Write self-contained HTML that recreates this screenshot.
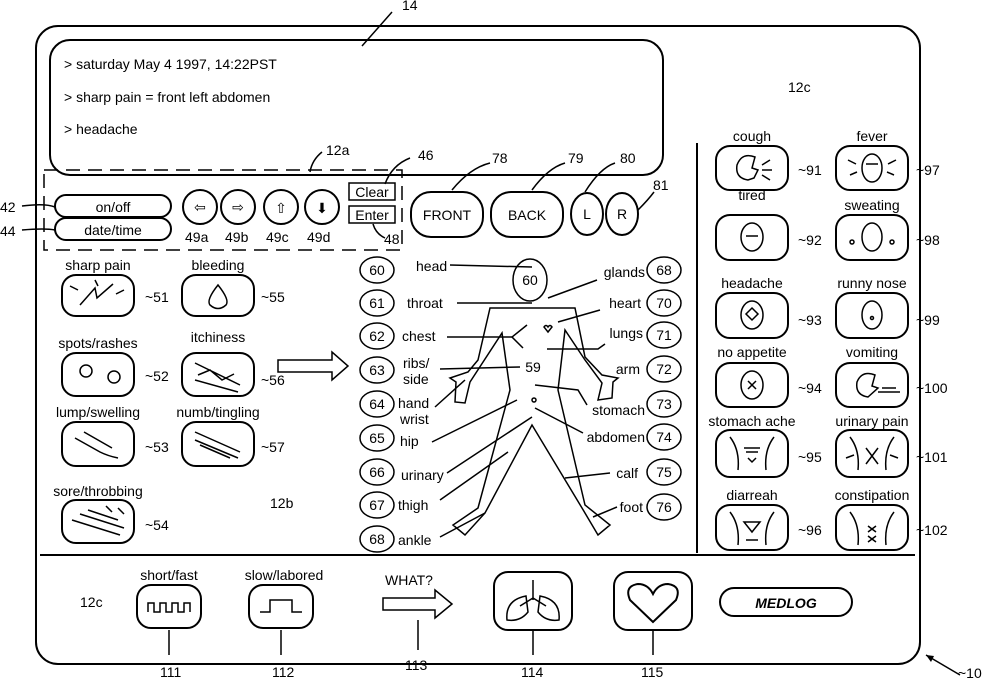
<!DOCTYPE html>
<html><head><meta charset="utf-8"><style>
body{margin:0;background:#fff}
svg{display:block}
text{font-family:"Liberation Sans",sans-serif;font-size:14px;fill:#000}
.s{fill:none;stroke:#000;stroke-width:2}
.t{fill:none;stroke:#000;stroke-width:1.5}
</style></head><body>
<svg width="988" height="679" viewBox="0 0 988 679">
<rect x="36" y="26" width="884" height="638" rx="22" class="s"/>
<rect x="50" y="40" width="613" height="135" rx="20" class="s"/>
<text x="64" y="69">&gt; saturday May 4 1997, 14:22PST</text>
<text x="64" y="102">&gt; sharp pain = front left abdomen</text>
<text x="64" y="134">&gt; headache</text>
<path d="M362 46 L392 12" class="t"/><text x="402" y="10">14</text>
<rect x="44" y="170" width="358" height="80" class="t" stroke-dasharray="14 8"/>
<path d="M310 172 Q312 160 322 152" class="t"/><text x="326" y="155">12a</text>
<rect x="55" y="195" width="116" height="22" rx="11" class="s"/><text x="113" y="212" text-anchor="middle">on/off</text>
<rect x="55" y="218" width="116" height="22" rx="11" class="s"/><text x="113" y="235" text-anchor="middle">date/time</text>
<text x="0" y="212">42</text><path d="M22 206 Q45 203 55 207" class="t"/>
<text x="0" y="236">44</text><path d="M22 230 Q45 228 55 230" class="t"/>
<circle cx="200" cy="207" r="17" class="s"/><text x="200" y="212" text-anchor="middle">⇦</text>
<circle cx="238" cy="207" r="17" class="s"/><text x="238" y="212" text-anchor="middle">⇨</text>
<circle cx="281" cy="207" r="17" class="s"/><text x="281" y="213" text-anchor="middle">⇧</text>
<circle cx="322" cy="207" r="17" class="s"/><text x="322" y="213" text-anchor="middle">⬇</text>
<text x="185" y="242">49a</text><text x="225" y="242">49b</text><text x="266" y="242">49c</text><text x="307" y="242">49d</text>
<rect x="349" y="183" width="46" height="17" class="t"/><text x="372" y="197" text-anchor="middle">Clear</text>
<rect x="349" y="206" width="46" height="17" class="t"/><text x="372" y="220" text-anchor="middle">Enter</text>
<path d="M385 184 Q392 165 410 158" class="t"/><text x="418" y="160">46</text>
<path d="M373 224 Q376 234 385 238" class="t"/><text x="384" y="244">48</text>
<rect x="411" y="192" width="72" height="45" rx="20" class="s"/><text x="447" y="220" text-anchor="middle" font-size="15">FRONT</text>
<rect x="491" y="192" width="72" height="45" rx="20" class="s"/><text x="527" y="220" text-anchor="middle" font-size="15">BACK</text>
<ellipse cx="587" cy="214" rx="16" ry="21" class="s"/><text x="587" y="219" text-anchor="middle">L</text>
<ellipse cx="622" cy="214" rx="16" ry="21" class="s"/><text x="622" y="219" text-anchor="middle">R</text>
<path d="M452 190 Q470 168 490 163" class="t"/><text x="492" y="163">78</text>
<path d="M532 190 Q548 168 565 163" class="t"/><text x="568" y="163">79</text>
<path d="M585 192 Q600 168 615 163" class="t"/><text x="620" y="163">80</text>
<path d="M638 210 Q648 200 654 192" class="t"/><text x="653" y="190">81</text>
<path d="M697 143 V553 M40 555 H915" class="s"/>
<text x="788" y="92">12c</text>
<text x="270" y="508">12b</text>
<text x="80" y="607" font-size="13">12c</text>
<!-- left icons -->
<g>
<text x="98" y="270" text-anchor="middle">sharp pain</text><rect x="62" y="275" width="72" height="41" rx="14" class="s"/>
<path d="M80 305 L95 288 L97 298 L113 284" class="t"/><path d="M70 286 L78 290 M124 290 L116 294 M95 280 L98 286" class="t"/>
<text x="218" y="270" text-anchor="middle">bleeding</text><rect x="182" y="275" width="72" height="41" rx="14" class="s"/>
<path d="M218 285 Q206 300 210 305 Q218 312 226 305 Q230 300 218 285Z" class="t"/>
<text x="98" y="348" text-anchor="middle">spots/rashes</text><rect x="62" y="353" width="72" height="43" rx="14" class="s"/>
<circle cx="86" cy="371" r="6" class="t"/><circle cx="114" cy="377" r="6" class="t"/>
<text x="218" y="342" text-anchor="middle">itchiness</text><rect x="182" y="353" width="72" height="43" rx="14" class="s"/>
<path d="M195 363 L240 385 M198 375 L210 370 L222 380 L234 374 M195 380 L238 392" class="t"/>
<text x="98" y="417" text-anchor="middle">lump/swelling</text><rect x="62" y="422" width="72" height="44" rx="14" class="s"/>
<path d="M75 438 L100 452 Q108 456 118 458 M84 432 L112 448" class="t"/>
<text x="218" y="417" text-anchor="middle">numb/tingling</text><rect x="182" y="422" width="72" height="44" rx="14" class="s"/>
<path d="M195 432 L240 452 M195 440 L238 458 M200 445 L230 458" class="t"/>
<text x="98" y="496" text-anchor="middle">sore/throbbing</text><rect x="62" y="500" width="72" height="43" rx="14" class="s"/>
<path d="M72 520 L120 535 M80 514 L124 528 M88 510 L118 520 M106 506 L112 512 M118 508 L124 514" class="t"/>
<text x="145" y="302">~51</text><text x="261" y="302">~55</text>
<text x="145" y="381">~52</text><text x="261" y="385">~56</text>
<text x="145" y="452">~53</text><text x="261" y="452">~57</text>
<text x="145" y="530">~54</text>
</g>
<path d="M278 360 H332 V352 L348 366 L332 380 V372 H278 Z" class="t"/>
<!-- body numbers -->
<g class="t">
<ellipse cx="377" cy="270" rx="17" ry="13"/><ellipse cx="377" cy="303" rx="17" ry="13"/><ellipse cx="377" cy="336" rx="17" ry="13"/><ellipse cx="377" cy="370" rx="17" ry="13"/><ellipse cx="377" cy="404" rx="17" ry="13"/><ellipse cx="377" cy="438" rx="17" ry="13"/><ellipse cx="377" cy="472" rx="17" ry="13"/><ellipse cx="377" cy="505" rx="17" ry="13"/><ellipse cx="377" cy="539" rx="17" ry="13"/>
<ellipse cx="664" cy="270" rx="17" ry="13"/><ellipse cx="664" cy="303" rx="17" ry="13"/><ellipse cx="664" cy="335" rx="17" ry="13"/><ellipse cx="664" cy="369" rx="17" ry="13"/><ellipse cx="664" cy="404" rx="17" ry="13"/><ellipse cx="664" cy="437" rx="17" ry="13"/><ellipse cx="664" cy="472" rx="17" ry="13"/><ellipse cx="664" cy="507" rx="17" ry="13"/>
</g>
<g text-anchor="middle">
<text x="377" y="275">60</text><text x="377" y="308">61</text><text x="377" y="341">62</text><text x="377" y="375">63</text><text x="377" y="409">64</text><text x="377" y="443">65</text><text x="377" y="477">66</text><text x="377" y="510">67</text><text x="377" y="544">68</text>
<text x="664" y="275">68</text><text x="664" y="308">70</text><text x="664" y="340">71</text><text x="664" y="374">72</text><text x="664" y="409">73</text><text x="664" y="442">74</text><text x="664" y="477">75</text><text x="664" y="512">76</text>
</g>
<text x="416" y="271">head</text><text x="407" y="308">throat</text><text x="402" y="341">chest</text>
<text x="403" y="368">ribs/</text><text x="403" y="384">side</text><text x="398" y="408">hand</text><text x="400" y="424">wrist</text>
<text x="400" y="446">hip</text><text x="401" y="480">urinary</text><text x="398" y="510">thigh</text><text x="398" y="545">ankle</text>
<g text-anchor="end"><text x="645" y="277">glands</text><text x="641" y="308">heart</text><text x="643" y="338">lungs</text><text x="640" y="374">arm</text><text x="645" y="415">stomach</text><text x="645" y="442">abdomen</text><text x="638" y="478">calf</text><text x="643" y="512">foot</text></g>
<ellipse cx="530" cy="280" rx="17" ry="21" class="t"/><text x="530" y="285" text-anchor="middle">60</text>
<path d="M490 308 L478 360 L468 372 L450 378 L456 382 L455 402 L465 403 L470 382 L502 333 L510 390 L478 508 L453 525 L465 535 L485 513 L532 425 L582 508 L598 535 L610 525 L585 505 L558 390 L565 330 L585 360 L602 383 L598 400 L612 398 L613 382 L618 378 L602 375 L585 357 L575 308 Z" class="t"/>
<path d="M527 325 L512 337 L523 348" class="t"/>
<path d="M548 332 L544 327 Q546 324 548 327 Q550 324 552 327 Z" class="t"/>
<circle cx="534" cy="400" r="2" class="t"/>
<text x="533" y="372" text-anchor="middle">59</text>
<g class="t">
<path d="M450 265 L532 267 M597 280 L548 298 M457 303 L532 303 M600 310 L558 322 M447 337 L512 337 M605 344 L598 349 L547 349 M440 369 L520 367 M435 407 L465 380 M535 385 L578 390 L587 405 M432 442 L517 400 M535 408 L583 433 M447 473 L532 417 M440 500 L508 452 M610 473 L565 478 M617 507 L593 517 M440 537 L485 513"/>
</g>
<!-- right icons -->
<g>
<text x="752" y="141" text-anchor="middle">cough</text><rect x="716" y="146" width="72" height="44" rx="14" class="s"/>
<text x="752" y="200" text-anchor="middle">tired</text><rect x="716" y="215" width="72" height="45" rx="14" class="s"/>
<text x="752" y="288" text-anchor="middle">headache</text><rect x="716" y="293" width="72" height="45" rx="14" class="s"/>
<text x="752" y="357" text-anchor="middle">no appetite</text><rect x="716" y="363" width="72" height="44" rx="14" class="s"/>
<text x="752" y="426" text-anchor="middle">stomach ache</text><rect x="716" y="430" width="72" height="47" rx="14" class="s"/>
<text x="752" y="500" text-anchor="middle">diarreah</text><rect x="716" y="505" width="72" height="45" rx="14" class="s"/>
<text x="872" y="141" text-anchor="middle">fever</text><rect x="836" y="146" width="72" height="44" rx="14" class="s"/>
<text x="872" y="210" text-anchor="middle">sweating</text><rect x="836" y="215" width="72" height="45" rx="14" class="s"/>
<text x="872" y="288" text-anchor="middle">runny nose</text><rect x="836" y="293" width="72" height="45" rx="14" class="s"/>
<text x="872" y="357" text-anchor="middle">vomiting</text><rect x="836" y="363" width="72" height="44" rx="14" class="s"/>
<text x="872" y="426" text-anchor="middle">urinary pain</text><rect x="836" y="430" width="72" height="47" rx="14" class="s"/>
<text x="872" y="500" text-anchor="middle">constipation</text><rect x="836" y="505" width="72" height="45" rx="14" class="s"/>
<g class="t">
<path d="M748 180 Q735 178 737 165 Q742 152 755 157 L752 168 L758 170 L754 178 Z M762 165 L770 160 M762 170 L772 170 M762 175 L770 180"/>
<ellipse cx="872" cy="168" rx="10" ry="14"/><path d="M848 160 L856 164 M896 160 L888 164 M850 175 L857 172 M894 175 L887 172 M866 164 H878"/>
<ellipse cx="752" cy="237" rx="11" ry="14"/><path d="M746 236 H758"/>
<ellipse cx="872" cy="237" rx="10" ry="14"/><circle cx="852" cy="242" r="2"/><circle cx="892" cy="242" r="2"/>
<ellipse cx="752" cy="315" rx="11" ry="14"/><path d="M752 308 L758 314 L752 320 L746 314 Z"/>
<ellipse cx="872" cy="315" rx="10" ry="14"/><circle cx="872" cy="318" r="1.5"/>
<ellipse cx="752" cy="385" rx="11" ry="14"/><path d="M748 381 L756 389 M756 381 L748 389"/>
<path d="M868 397 Q855 395 857 382 Q862 370 875 375 L872 386 L878 388 Z M878 392 H900 M882 388 H896"/>
<path d="M730 437 Q740 450 738 470 M774 437 Q764 450 766 470 M744 448 H760 M746 452 H758 M748 458 L752 462 L756 458"/>
<path d="M850 437 Q860 450 858 470 M894 437 Q884 450 886 470 M866 448 L878 464 M878 448 L866 464 M846 458 L854 455 M898 458 L890 455"/>
<path d="M730 512 Q740 525 738 545 M774 512 Q764 525 766 545 M744 522 L760 522 L752 532 Z M746 540 H758"/>
<path d="M850 512 Q860 525 858 545 M894 512 Q884 525 886 545 M868 526 L876 532 M876 526 L868 532 M868 536 L876 542 M876 536 L868 542"/>
</g>
<text x="798" y="175">~91</text><text x="798" y="245">~92</text><text x="798" y="325">~93</text><text x="798" y="393">~94</text><text x="798" y="462">~95</text><text x="798" y="535">~96</text>
<text x="916" y="175">~97</text><text x="916" y="245">~98</text><text x="916" y="325">~99</text><text x="916" y="393">~100</text><text x="916" y="462">~101</text><text x="916" y="535">~102</text>
</g>
<!-- bottom -->
<text x="169" y="580" text-anchor="middle">short/fast</text><rect x="137" y="585" width="64" height="43" rx="14" class="s"/>
<path d="M148 612 V603 H154 V612 H160 V603 H166 V612 H172 V603 H178 V612 H184 V603 H190 V612" class="t"/>
<text x="284" y="580" text-anchor="middle">slow/labored</text><rect x="249" y="585" width="64" height="43" rx="14" class="s"/>
<path d="M260 612 H270 V600 H292 V612 H302" class="t"/>
<text x="385" y="585">WHAT?</text>
<path d="M383 598 H435 V590 L452 604 L435 618 V610 H383 Z" class="t"/>
<rect x="494" y="572" width="78" height="58" rx="14" class="s"/>
<path d="M533 580 V600 M533 598 L520 606 M533 598 L546 606 M526 596 Q505 600 507 620 Q520 622 528 612 Z M540 596 Q561 600 559 620 Q546 622 538 612 Z" class="t"/>
<rect x="614" y="572" width="78" height="58" rx="14" class="s"/>
<path d="M653 622 L630 600 Q624 586 638 584 Q648 584 653 594 Q658 584 668 584 Q682 586 676 600 Z" class="s"/>
<rect x="720" y="588" width="132" height="28" rx="14" class="s"/>
<text x="786" y="608" text-anchor="middle" font-weight="bold" font-style="italic" font-size="16">MEDLOG</text>
<path d="M169 630 V655 M281 630 V655 M418 620 V650 M533 630 V655 M653 630 V655" class="t"/>
<text x="160" y="677">111</text><text x="272" y="677">112</text><text x="405" y="670">113</text><text x="521" y="677">114</text><text x="641" y="677">115</text>
<path d="M926 655 L960 675" class="t"/><path d="M926 655 l8 1 l-3 6z"/><text x="958" y="678">~10</text>
</svg>
</body></html>
